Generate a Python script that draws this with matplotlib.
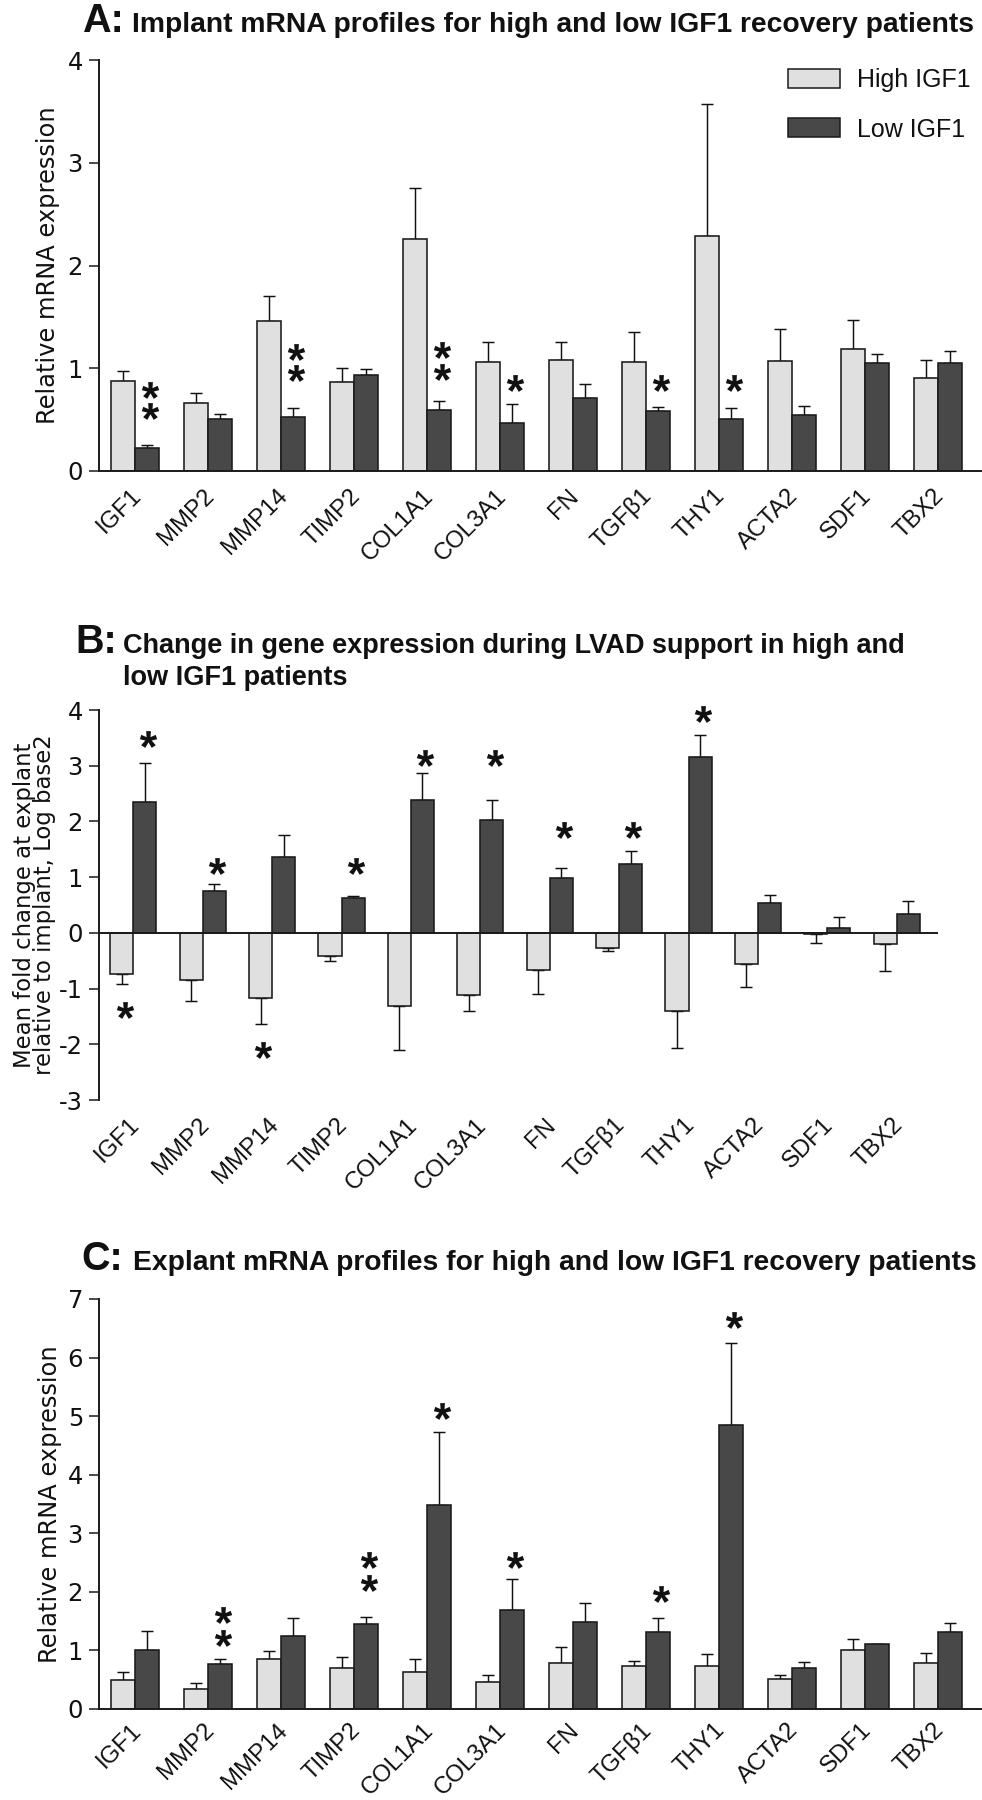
import numpy as np
import matplotlib
matplotlib.use('Agg')
import matplotlib.pyplot as plt
from matplotlib.patches import Rectangle
from matplotlib.textpath import TextPath
from matplotlib.font_manager import FontProperties, findfont
from matplotlib.path import Path
import matplotlib.transforms as mtransforms

plt.rcParams['axes.unicode_minus'] = False

# ---------------- data ----------------
genes = ['IGF1', 'MMP2', 'MMP14', 'TIMP2', 'COL1A1', 'COL3A1', 'FN',
         'TGFβ1', 'THY1', 'ACTA2', 'SDF1', 'TBX2']
series_names = ['High IGF1', 'Low IGF1']

# Panel A: implant
a_high = [0.875, 0.657, 1.46, 0.862, 2.257, 1.057, 1.083, 1.057, 2.283, 1.067, 1.184, 0.907]
a_high_err = [0.095, 0.098, 0.24, 0.138, 0.497, 0.198, 0.176, 0.293, 1.291, 0.315, 0.283, 0.169]
a_low = [0.22, 0.504, 0.527, 0.937, 0.592, 0.47, 0.715, 0.582, 0.504, 0.543, 1.047, 1.047]
a_low_err = [0.03, 0.049, 0.091, 0.052, 0.088, 0.184, 0.127, 0.042, 0.107, 0.085, 0.091, 0.12]
a_star_idx = [0, 0, 2, 2, 4, 4, 5, 7, 8]
a_star_y = [0.79, 0.58, 1.16, 0.95, 1.18, 0.967, 0.86, 0.86, 0.86]

# Panel B: change (log2)
b_high = [-0.745, -0.855, -1.176, -0.411, -1.305, -1.11, -0.662, -0.263, -1.40, -0.566, -0.025, -0.206]
b_high_err = [0.168, 0.375, 0.464, 0.103, 0.795, 0.30, 0.428, 0.071, 0.66, 0.404, 0.16, 0.474]
b_low = [2.34, 0.758, 1.356, 0.63, 2.39, 2.02, 0.99, 1.228, 3.15, 0.527, 0.09, 0.347]
b_low_err = [0.71, 0.116, 0.404, 0.038, 0.48, 0.37, 0.18, 0.237, 0.40, 0.153, 0.20, 0.231]
b_star_low_idx = [0, 1, 3, 4, 5, 6, 7, 8]
b_star_low_y = [3.48, 1.2, 1.2, 3.14, 3.14, 1.84, 1.84, 3.93]
b_star_high_idx = [0, 2]
b_star_high_y = [-1.38, -2.10]

# Panel C: explant
c_high = [0.49, 0.344, 0.843, 0.688, 0.62, 0.452, 0.789, 0.735, 0.722, 0.506, 1.0, 0.789]
c_high_err = [0.13, 0.096, 0.135, 0.189, 0.23, 0.121, 0.27, 0.074, 0.208, 0.074, 0.187, 0.161]
c_low = [1.0, 0.77, 1.234, 1.443, 3.473, 1.693, 1.483, 1.308, 4.84, 0.695, 1.1, 1.308]
c_low_err = [0.32, 0.086, 0.31, 0.121, 1.254, 0.517, 0.324, 0.242, 1.40, 0.101, 0.013, 0.148]
c_star_idx = [1, 1, 3, 3, 4, 5, 7, 8]
c_star_y = [1.6, 1.21, 2.535, 2.144, 5.08, 2.535, 1.96, 6.64]

# ---------------- style ----------------
W, H = 982, 1800
LIGHT = '#e0e0e0'
DARK = '#484848'
EDGE = '#1a1a1a'
INK = '#111111'
SANS = 'Liberation Sans'
WIDE = 'DejaVu Sans'

def has_font(name):
    try:
        findfont(FontProperties(family=name), fallback_to_default=False)
        return True
    except Exception:
        return False

TITLE_FONT = 'Liberation Sans Narrow' if has_font('Liberation Sans Narrow') else SANS

fig = plt.figure(figsize=(W / 100, H / 100), dpi=100)
renderer = fig.canvas.get_renderer()

def fx(x):
    return x / W

def fy(y):
    return 1 - y / H

def fit(t, target, dim='w'):
    bb = t.get_window_extent(renderer)
    cur = bb.width if dim == 'w' else bb.height
    t.set_fontsize(t.get_fontsize() * target / cur)
    return t.get_fontsize()

# asterisk marker (centred glyph path)
tp = TextPath((0, 0), '*', size=1, prop=FontProperties(family=SANS, weight='bold'))
codes = np.array(tp.codes)
v = tp.vertices.copy()
real = codes != Path.CLOSEPOLY
cx = (v[real, 0].min() + v[real, 0].max()) / 2
cy = (v[real, 1].min() + v[real, 1].max()) / 2
v[:, 0] -= cx
v[:, 1] -= cy
v[~real] = 0.0
STAR = Path(v, codes)

XLIM = (-0.49, 11.59)
BW = 1 / 3

def make_axes(left, top, right, bottom):
    return fig.add_axes([fx(left), fy(bottom), fx(right - left), (bottom - top) / H])

def style_axes(ax, ylim, yticks, bottom_spine=True, label_dy=-26.0):
    ax.set_xlim(*XLIM)
    ax.set_ylim(*ylim)
    for s in ['top', 'right']:
        ax.spines[s].set_visible(False)
    ax.spines['left'].set_linewidth(1.4)
    ax.spines['left'].set_color(EDGE)
    if bottom_spine:
        ax.spines['bottom'].set_linewidth(1.4)
        ax.spines['bottom'].set_color(EDGE)
        ax.spines['bottom'].set_zorder(5)
    else:
        ax.spines['bottom'].set_visible(False)
    ax.set_yticks(yticks)
    ax.set_yticklabels([str(t) for t in yticks], fontfamily=WIDE, fontsize=17.5)
    ax.tick_params(axis='y', length=7.2, width=1.1, pad=4.5, colors=EDGE, labelcolor=INK)
    ax.set_xticks([])
    trans = mtransforms.offset_copy(ax.get_xaxis_transform(), fig=fig, x=7.0, y=label_dy, units='dots')
    for i, g in enumerate(genes):
        ax.text(i, 0, g, transform=trans, rotation=45, rotation_mode='anchor',
                ha='right', va='baseline', fontfamily=SANS, fontsize=17.2, color=INK)

def draw_bars(ax, high, high_err, low, low_err):
    x = np.arange(len(genes))
    hi = np.array(high)
    lo = np.array(low)
    he = np.array(high_err)
    le = np.array(low_err)
    for vals, errs, xs in [(hi, he, x - BW / 2), (lo, le, x + BW / 2)]:
        lower = np.where(vals < 0, errs, 0)
        upper = np.where(vals >= 0, errs, 0)
        ax.errorbar(xs, vals, yerr=[lower, upper], fmt='none', ecolor=INK,
                    elinewidth=1.05, capsize=4.4, capthick=1.05, zorder=1)
    ax.bar(x - BW / 2, hi, BW, color=LIGHT, edgecolor=EDGE, linewidth=1.15, zorder=3,
           label=series_names[0])
    ax.bar(x + BW / 2, lo, BW, color=DARK, edgecolor=EDGE, linewidth=1.15, zorder=3,
           label=series_names[1])

def draw_stars(ax, idx, ys, offset):
    xs = np.array(idx) + offset + 0.04
    ax.plot(xs, ys, linestyle='none', marker=STAR, markersize=12.5, color=INK,
            markeredgewidth=0, zorder=6, clip_on=False)

# ---------------- Panel A ----------------
axA = make_axes(99.3, 60, 981, 471)
style_axes(axA, (0, 4), [0, 1, 2, 3, 4])
draw_bars(axA, a_high, a_high_err, a_low, a_low_err)
draw_stars(axA, a_star_idx, a_star_y, BW / 2)

# legend (drawn manually)
for (y0, y1, col, name, base) in [(69, 88.3, LIGHT, series_names[0], 86.7),
                                  (117.7, 137.3, DARK, series_names[1], 136.7)]:
    fig.add_artist(Rectangle((fx(787.7), fy(y1)), (840 - 787.7) / W, (y1 - y0) / H,
                             transform=fig.transFigure, facecolor=col, edgecolor=EDGE,
                             linewidth=1.1))
    fig.text(fx(856.7), fy(base), name, ha='left', va='baseline', fontfamily=SANS,
             fontsize=18, color=INK)

# ---------------- Panel B ----------------
axB = make_axes(99.3, 710, 937.7, 1100)
style_axes(axB, (-3, 4), [-3, -2, -1, 0, 1, 2, 3, 4], bottom_spine=False)
axB.axhline(0, color=EDGE, linewidth=1.4, zorder=5)
draw_bars(axB, b_high, b_high_err, b_low, b_low_err)
draw_stars(axB, b_star_low_idx, b_star_low_y, BW / 2)
draw_stars(axB, b_star_high_idx, b_star_high_y, -BW / 2)

# ---------------- Panel C ----------------
axC = make_axes(99.3, 1299, 981, 1708.7)
style_axes(axC, (0, 7), [0, 1, 2, 3, 4, 5, 6, 7], label_dy=-22.5)
draw_bars(axC, c_high, c_high_err, c_low, c_low_err)
draw_stars(axC, c_star_idx, c_star_y, BW / 2)

# ---------------- titles ----------------
for (lx, tx, base, letter, text, width) in [
        (82, 132, 32, 'A:', 'Implant mRNA profiles for high and low IGF1 recovery patients', 842),
        (75, 122.7, 653.3, 'B:', 'Change in gene expression during LVAD support in high and', 782),
        (81.7, 133.3, 1270, 'C:', 'Explant mRNA profiles for high and low IGF1 recovery patients', 841)]:
    fig.text(fx(lx), fy(base), letter, ha='left', va='baseline', fontfamily=SANS,
             fontweight='bold', fontsize=28.5, color=INK)
    t = fig.text(fx(tx), fy(base), text, ha='left', va='baseline', fontfamily=TITLE_FONT,
                 fontweight='bold', fontsize=20, color=INK)
    fs = fit(t, width)
    if letter == 'B:':
        fig.text(fx(tx), fy(685), 'low IGF1 patients', ha='left', va='baseline',
                 fontfamily=TITLE_FONT, fontweight='bold', fontsize=fs, color=INK)

# ---------------- y labels ----------------
ta = fig.text(fx(55), fy(265.5), 'Relative mRNA expression', rotation=90, rotation_mode='anchor',
              ha='center', va='baseline', fontfamily=WIDE, fontsize=17, color=INK)
fsa = fit(ta, 318, 'h')
fig.text(fx(57), fy(1504), 'Relative mRNA expression', rotation=90, rotation_mode='anchor',
         ha='center', va='baseline', fontfamily=WIDE, fontsize=fsa, color=INK)
tb = fig.text(fx(31), fy(905), 'Mean fold change at explant', rotation=90, rotation_mode='anchor',
              ha='center', va='baseline', fontfamily=WIDE, fontsize=15, color=INK)
fsb = fit(tb, 325, 'h')
fig.text(fx(51), fy(905), 'relative to implant, Log base2', rotation=90, rotation_mode='anchor',
         ha='center', va='baseline', fontfamily=WIDE, fontsize=fsb, color=INK)

fig.savefig('out.png', dpi=100)
